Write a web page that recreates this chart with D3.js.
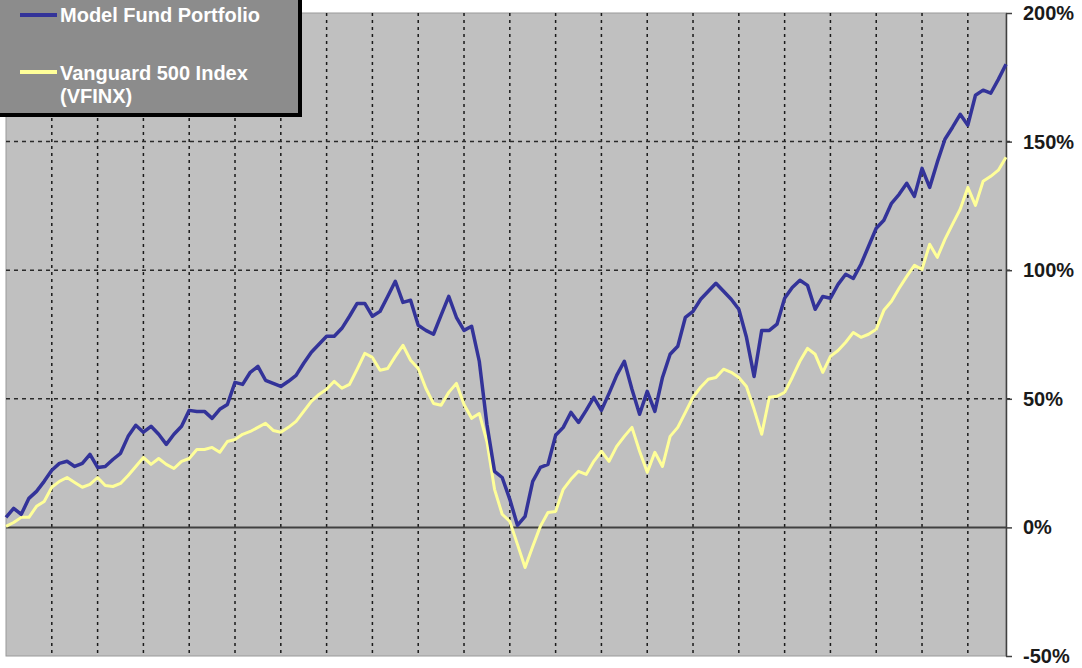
<!DOCTYPE html>
<html>
<head>
<meta charset="utf-8">
<script src="https://cdn.jsdelivr.net/npm/d3@7"></script>
<style>
  html, body { margin: 0; padding: 0; background: #ffffff; }
  svg { display: block; font-family: "Liberation Sans", Arial, sans-serif; }
</style>
</head>
<body>
<svg id="chart" width="1082" height="668"></svg>
<script>
// ---- Data (cumulative return, %) ----
const seriesNames = ["Model Fund Portfolio", "Vanguard 500 Index (VFINX)"];
const modelFund = [
  3.9, 7.4, 5.1, 11.3, 14.0, 17.9, 22.2, 24.9, 25.7, 23.7,
  24.9, 28.4, 23.3, 23.7, 26.4, 28.8, 35.4, 39.7, 37.0, 39.3,
  36.2, 32.3, 36.2, 39.3, 45.5, 45.1, 45.1, 42.4, 45.9, 47.8,
  56.4, 55.6, 60.3, 62.6, 57.2, 56.0, 54.8, 56.8, 59.1, 63.8,
  68.1, 71.2, 74.3, 74.3, 77.4, 82.1, 87.1, 87.1, 82.1, 84.0,
  89.8, 95.7, 87.5, 88.3, 78.6, 76.6, 75.1, 82.5, 89.8, 81.7,
  76.6, 78.2, 64.6, 40.1, 21.8, 19.4, 10.9, 0.8, 4.3, 17.9,
  23.3, 24.5, 35.8, 38.9, 44.7, 40.8, 45.5, 50.6, 45.5, 52.1,
  59.1, 64.6, 53.7, 44.0, 52.9, 45.1, 58.3, 67.3, 70.4, 81.7,
  84.0, 88.7, 91.8, 94.9, 91.8, 88.7, 84.8, 73.9, 58.7, 76.6,
  76.6, 79.0, 89.1, 93.3, 96.1, 94.1, 84.8, 89.8, 89.1, 94.5,
  98.4, 96.8, 102.3, 109.3, 116.3, 119.4, 126.0, 129.5, 133.8, 128.7,
  139.6, 132.2, 142.0, 150.9, 155.6, 160.6, 156.4, 168.0, 170.0, 168.8,
  174.2, 180.1
];
const vanguard500 = [
  0.4, 1.9, 3.9, 3.9, 8.2, 10.1, 15.6, 17.9, 19.4, 17.5,
  15.6, 16.7, 19.4, 16.3, 15.9, 17.1, 20.2, 23.7, 27.2, 24.5,
  26.8, 24.5, 22.9, 25.7, 26.8, 30.3, 30.3, 31.1, 29.2, 33.4,
  34.2, 36.2, 37.3, 38.9, 40.5, 37.7, 37.0, 38.9, 41.2, 45.1,
  49.0, 51.7, 53.7, 56.8, 54.1, 55.6, 61.5, 67.7, 66.1, 61.1,
  61.8, 66.5, 70.8, 65.0, 61.8, 54.1, 48.2, 47.5, 52.5, 56.0,
  47.8, 42.4, 44.3, 33.4, 14.8, 5.1, 2.3, -6.6, -15.6, -7.4,
  0.4, 5.8, 6.2, 14.8, 18.7, 21.8, 20.6, 25.7, 29.6, 25.7,
  31.5, 35.4, 38.9, 29.6, 21.4, 29.2, 23.7, 35.4, 38.9, 44.7,
  50.6, 54.5, 57.6, 58.3, 61.5, 60.3, 58.3, 54.8, 45.9, 36.2,
  50.6, 51.0, 52.5, 58.3, 64.6, 69.6, 67.3, 60.3, 66.5, 68.8,
  72.0, 75.8, 73.9, 75.1, 77.0, 84.4, 87.9, 93.0, 97.6, 101.9,
  100.3, 110.1, 105.0, 112.0, 117.9, 123.7, 132.2, 125.2, 134.6, 136.5,
  138.9, 143.9
];
const periods = d3.range(modelFund.length);      // monthly-style periods
const gridEvery = 6;                              // vertical gridline every 6 periods
const yTicks = [-50, 0, 50, 100, 150, 200];
const yTickLabels = ["-50%", "0%", "50%", "100%", "150%", "200%"];

// ---- Layout ----
const svg = d3.select("#chart");
const plotL = 6, plotR = 1006, plotT = 13, plotB = 656;

const x = d3.scaleLinear().domain([0, periods.length - 1]).range([plotL, plotR]);
const y = d3.scaleLinear().domain([-50, 200]).range([plotB, plotT]);

// plot background
svg.append("rect")
  .attr("x", plotL).attr("y", plotT)
  .attr("width", plotR - plotL).attr("height", plotB - plotT)
  .attr("fill", "#c0c0c0")
  .attr("stroke", "#9a9a9a").attr("stroke-width", 1);

// vertical dashed gridlines
const vGrid = d3.range(gridEvery, periods.length - 1, gridEvery);
svg.append("g").selectAll("line").data(vGrid).join("line")
  .attr("x1", d => x(d)).attr("x2", d => x(d))
  .attr("y1", plotT).attr("y2", plotB)
  .attr("stroke", "#1a1a1a").attr("stroke-width", 1.5)
  .attr("stroke-dasharray", "3,4");

// horizontal dashed gridlines
const hGrid = yTicks.filter(v => v !== 0 && v !== -50 && v !== 200);
svg.append("g").selectAll("line").data(hGrid).join("line")
  .attr("x1", plotL).attr("x2", plotR + 6)
  .attr("y1", d => y(d)).attr("y2", d => y(d))
  .attr("stroke", "#2a2a2a").attr("stroke-width", 1.5)
  .attr("stroke-dasharray", "4,4");

// zero line
svg.append("line")
  .attr("x1", plotL).attr("x2", plotR)
  .attr("y1", y(0)).attr("y2", y(0))
  .attr("stroke", "#404040").attr("stroke-width", 2);

// right axis
const axis = d3.axisRight(y)
  .tickValues(yTicks)
  .tickFormat(d => yTickLabels[yTicks.indexOf(d)])
  .tickSize(6).tickSizeOuter(0).tickPadding(11);
const ag = svg.append("g").attr("transform", `translate(${plotR},0)`).call(axis);
ag.select(".domain").attr("stroke", "#404040").attr("stroke-width", 1.5);
ag.selectAll(".tick line").attr("stroke", "#404040").attr("stroke-width", 1.5);
ag.selectAll(".tick text")
  .attr("fill", "#1a1a1a")
  .style("font-size", "20px").style("font-weight", "bold")
  .style("font-family", "'Liberation Sans', Arial, sans-serif");

// lines
const line = d3.line().x((d, i) => x(periods[i])).y(d => y(d));
svg.append("path").datum(vanguard500)
  .attr("d", line).attr("fill", "none")
  .attr("stroke", "#ffff99").attr("stroke-width", 3)
  .attr("stroke-linejoin", "round");
svg.append("path").datum(modelFund)
  .attr("d", line).attr("fill", "none")
  .attr("stroke", "#333399").attr("stroke-width", 3.5)
  .attr("stroke-linejoin", "round");

// legend
const lg = svg.append("g");
lg.append("rect").attr("x", -10).attr("y", -10).attr("width", 312).attr("height", 127)
  .attr("fill", "#000000");
lg.append("rect").attr("x", -10).attr("y", -10).attr("width", 308).attr("height", 123)
  .attr("fill", "#8c8c8c");
const legendColors = ["#333399", "#ffff99"];
const legendY = [15, 72];
seriesNames.forEach((name, i) => {
  lg.append("line").attr("x1", 20).attr("x2", 57)
    .attr("y1", legendY[i]).attr("y2", legendY[i])
    .attr("stroke", legendColors[i]).attr("stroke-width", 4);
});
const lt = lg.append("g").attr("fill", "#ffffff")
  .style("font-size", "20px").style("font-weight", "bold");
lt.append("text").attr("x", 60).attr("y", 22).text("Model Fund Portfolio");
lt.append("text").attr("x", 60).attr("y", 80).text("Vanguard 500 Index");
lt.append("text").attr("x", 60).attr("y", 103).text("(VFINX)");
</script>
</body>
</html>
